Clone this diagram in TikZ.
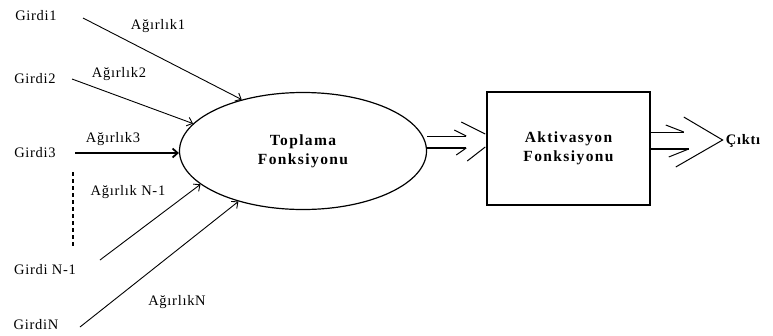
\documentclass[tikz,border=0pt]{standalone}
\usepackage{fontspec}
\setmainfont{Liberation Serif}
\newfontfamily\lblfont[LetterSpace=5]{Liberation Serif}
\newfontfamily\boxfont[LetterSpace=9]{Liberation Serif}
\usetikzlibrary{shapes.geometric,arrows.meta,calc}
\begin{document}
\begin{tikzpicture}[x=1pt,y=-1pt,
  lbl/.style={inner sep=0pt,font=\lblfont\fontsize{14.5}{16}\selectfont},
  boxtxt/.style={font=\boxfont\bfseries\fontsize{15.5}{19}\selectfont,align=center},
  inarrow/.style={line width=0.9pt,-{Straight Barb[length=5pt,width=9pt]}},
  thin/.style={line width=1pt}]
\useasboundingbox (0,0) rectangle (773,335);

% processing blocks
\node[ellipse,draw,line width=1.2pt,minimum width=247pt,minimum height=117pt,inner sep=0pt,boxtxt]
  (sum) at (303,151) {Toplama\\Fonksiyonu};
\node[rectangle,draw,line width=1.5pt,fill=white,minimum width=163pt,minimum height=113pt,boxtxt]
  (act) at (568.5,148.5) {Aktivasyon\\Fonksiyonu};

% inputs
\node[lbl] (g1) at (36,16) {Girdi1};
\node[lbl] (g2) at (35,79) {Girdi2};
\node[lbl] (g3) at (35,153) {Girdi3};
\node[lbl] (gn1) at (45,270) {Girdi N-1};
\node[lbl] (gn) at (36,325) {GirdiN};

% weights
\node[lbl] (w1) at (158,26) {Ağırlık1};
\node[lbl] (w2) at (119,74) {Ağırlık2};
\node[lbl] (w3) at (113,139) {Ağırlık3};
\node[lbl] (wn1) at (128,192) {Ağırlık N-1};
\node[lbl] (wn) at (177,302) {AğırlıkN};

% line starts
\coordinate (s1) at (83,18);
\coordinate (s2) at (72,79);
\coordinate (s3) at (75,153);
\coordinate (sn1) at (100,260);
\coordinate (sn) at (80,327);

\draw[inarrow] (s1) -- (sum.140);
\draw[inarrow] (s2) -- (sum.166);
\draw[inarrow,line width=1.8pt] (s3) -- ($(sum.west)+(0,2)$);
\draw[inarrow] (sn1) -- (sum.198);
\draw[inarrow] (sn) -- (sum.218);

% omitted inputs
\coordinate (d1) at (73,172);
\coordinate (d2) at (73,248);
\draw[line width=2pt,dash pattern=on 4pt off 3pt] (d1) -- (d2);

% double arrow: sum -> act
\draw[thin] ($(sum.east)+(0,-15)$) -- ($(act.west)+(-20,-12.5)$);
\draw[thin] ($(act.west)+(-32,-18.5)$) -- ($(act.west)+(-20,-12.5)$);
\draw[line width=1.6pt] ($(sum.east)+(0,-3)$) -- ($(act.west)+(-20,-0.5)$);
\draw[thin] ($(act.west)+(-30,6.5)$) -- ($(act.west)+(-20,-0.5)$);
\draw[thin] ($(act.west)+(-25,-26.5)$) -- ($(act.west)+(-1,-14.5)$);
\draw[thin] ($(act.west)+(-19,12.5)$) -- ($(act.west)+(-1,-1.5)$);

% output
\node[lbl,font=\lblfont\bfseries\fontsize{14.5}{16}\selectfont] (out) at (743,141) {Çıktı};
\draw[thin] ($(act.east)+(0,-16.5)$) -- ($(act.east)+(33,-16.5)$);
\draw[thin] ($(act.east)+(15,-23.5)$) -- ($(act.east)+(33,-16.5)$);
\draw[line width=1.6pt] ($(act.east)+(0,0.5)$) -- ($(act.east)+(38,0.5)$);
\draw[thin] ($(act.east)+(18,8.5)$) -- ($(act.east)+(38,0.5)$);
\draw[thin] ($(act.east)+(33,-31.5)$) -- ($(out.west)+(-3,-1)$) -- ($(act.east)+(25,18.5)$);
\end{tikzpicture}
\end{document}
